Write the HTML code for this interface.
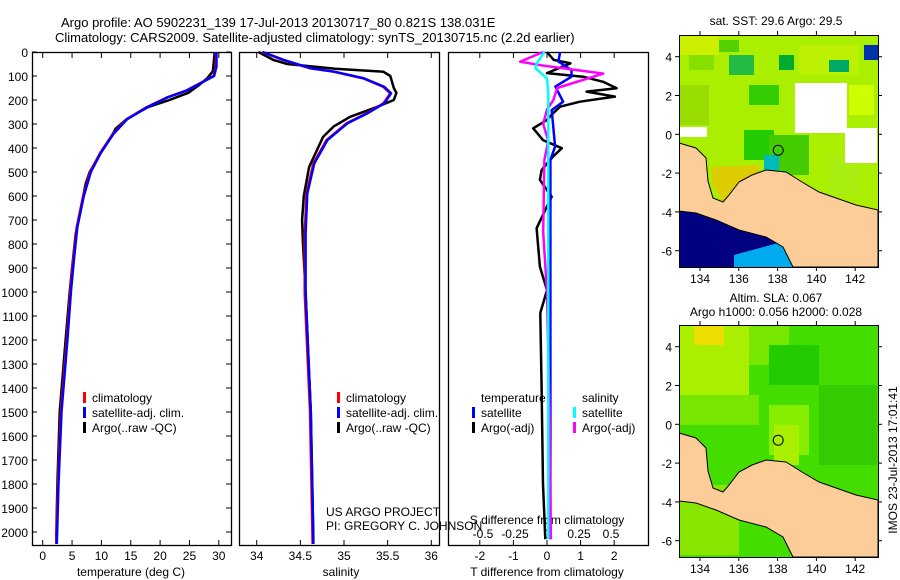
<!DOCTYPE html>
<html><head><meta charset="utf-8"><style>
body{margin:0;background:#fff;}
svg{display:block;font-family:"Liberation Sans",sans-serif;}
</style></head><body>
<svg id="c" width="900" height="580" viewBox="0 0 900 580"></svg>
<script>
// ---------- data ----------
const depthT = [0,60,100,130,160,190,230,280,340,420,500,600,730,870,1000,1200,1500,1800,2050];
const tempClim = [29.5,29.5,29.1,26.8,24.5,21.1,17.7,14.3,12.0,9.8,8.1,6.9,5.8,5.2,4.7,4.1,3.1,2.6,2.3];
const depthTA = [0,80,110,140,170,200,230,280,320,340,420,500,550,760,900,1000,1200,1500,1800,2030];
const tempArgo = [29.3,29.0,28.0,26.5,24.8,21.6,17.9,14.3,12.4,12.0,9.9,8.0,7.3,5.6,5.0,4.6,3.9,2.9,2.5,2.3];
const depthS = [0,33,68,82,110,145,172,214,255,297,367,464,589,755,1005,1500,2050];
const salClim = [34.06,34.30,34.61,34.88,35.22,35.45,35.53,35.45,35.26,35.03,34.80,34.65,34.57,34.55,34.55,34.61,34.64];
const depthSA = [0,33,50,70,82,100,150,170,200,230,270,311,354,480,600,700,800,1000,1500,2030];
const salArgo = [34.02,34.19,34.35,34.9,35.45,35.53,35.57,35.6,35.57,35.37,35.07,34.88,34.76,34.6,34.54,34.52,34.53,34.56,34.62,34.65];
const depthDT = [0,33,47,88,103,124,151,165,186,207,228,256,283,318,367,401,436,492,533,603,734,894,992,1087,1400,1800,2030];
const dTArgo = [0.0,0.2,0.7,0.0,1.07,1.67,2.07,1.18,2.02,0.98,0.39,0.18,0.0,-0.41,-0.12,0.44,0.18,-0.16,-0.21,0.14,-0.31,-0.21,0.0,-0.2,-0.16,-0.12,-0.05];
const depthDTS = [0,40,75,103,144,207,242,300,394,450,1000,2030];
const dTSat = [0.39,0.34,0.73,0.73,0.25,0.48,0.14,0.18,0.24,0.1,0.1,0.1];
const depthDS = [0,40,55,90,150,200,240,300,370,450,750,1000,1500,2030];
const dSArgo = [-0.03,-0.21,-0.05,0.44,0.08,0.05,0.0,-0.03,0.01,-0.02,-0.03,0.0,0.02,0.03];
const depthDSS = [0,47,68,110,170,2030];
const dSSat = [-0.02,-0.08,-0.09,0.0,0.01,0.01];
const depthTicks = [0,100,200,300,400,500,600,700,800,900,1000,1100,1200,1300,1400,1500,1600,1700,1800,1900,2000];
const tempTicks = [0,5,10,15,20,25,30];
const salTicks = [34,34.5,35,35.5,36];
const salTickLabels = ["34","34.5","35","35.5","36"];
const dTTicks = [-2,-1,0,1,2];
const dSTicks = [-0.5,-0.25,0,0.25,0.5];
const dSTickLabels = ["-0.5","-0.25","0","0.25","0.5"];
const lonTicks = [134,136,138,140,142];
const latTicks = [-6,-4,-2,0,2,4];
const argoLon = 138.031, argoLat = -0.821;

// ---------- helpers ----------
const NS="http://www.w3.org/2000/svg";
const svg=document.getElementById('c');
function mk(tag,attrs,parent){const e=document.createElementNS(NS,tag);for(const k in attrs)e.setAttribute(k,attrs[k]);(parent||svg).appendChild(e);return e;}
function txt(s,x,y,anchor,size,parent){const t=mk('text',{x:x,y:y,'text-anchor':anchor||'start','font-size':size||12,fill:'#000'},parent);t.textContent=s;return t;}
const yD = d => 52 + d*0.24;
const xT = t => 42.7 + t*5.87;
const xS = s => 256.7 + (s-34)*87.3;
const xDT = v => 547 + v*33.6;
const xDS = v => 547 + v*128;
function line(xs,ds,fx,color,name,w){
  const pts=xs.map((v,i)=>fx(v).toFixed(1)+','+yD(ds[i]).toFixed(1)).join(' ');
  const p=mk('polyline',{points:pts,fill:'none',stroke:color,'stroke-width':w||2.5,'stroke-linejoin':'round'});
  
  
}

let t1=txt('Argo profile: AO 5902231_139 17-Jul-2013 20130717_80 0.821S 138.031E',61,27,'start',13);

let t2=txt('Climatology: CARS2009. Satellite-adjusted climatology: synTS_20130715.nc (2.2d earlier)',55,42,'start',13);


const panels=[[32,231,'temperature-panel'],[239,439,'salinity-panel'],[448,648,'difference-panel']];
panels.forEach(p=>{
  const r=mk('rect',{x:p[0]+0.5,y:52.5,width:p[1]-p[0],height:493,fill:'none',stroke:'#000','stroke-width':1.3});
  
  
});
depthTicks.forEach(d=>{
  const y=yD(d);
  mk('line',{x1:32,x2:37,y1:y,y2:y,stroke:'#000'});
  mk('line',{x1:226,x2:231,y1:y,y2:y,stroke:'#000'});
  const l=txt(String(d),28,y+5,'end',12);
  
  
});
function xticks(vals,labels,fx,yLab){
  vals.forEach((v,i)=>{
    const x=fx(v);
    mk('line',{x1:x,x2:x,y1:540,y2:545,stroke:'#000'});
    mk('line',{x1:x,x2:x,y1:53,y2:58,stroke:'#000'});
    const l=txt(labels[i],x,yLab,'middle',12);
    
    
  });
}
xticks(tempTicks,tempTicks.map(String),xT,560);
xticks(salTicks,salTickLabels,xS,560);
xticks(dTTicks,dTTicks.map(String),xDT,560);
dSTicks.forEach((v,i)=>{const l=txt(dSTickLabels[i],xDS(v),538,'middle',12);
  });
let xl=txt('temperature (deg C)',131,576,'middle',12);
xl=txt('salinity',341,576,'middle',12);
xl=txt('T difference from climatology',547,576,'middle',12);
xl=txt('S difference from climatology',547,524,'middle',12);

line(tempArgo,depthTA,xT,'#000','temp-argo-line');
line(tempClim,depthT,xT,'#f00','temp-climatology-line');
line(tempClim.map(v=>v+0.1),depthT,xT,'#00f','temp-satellite-line');
line(salArgo,depthSA,xS,'#000','sal-argo-line');
line(salClim,depthS,xS,'#f00','sal-climatology-line');
line(salClim.map(v=>v+0.01),depthS,xS,'#00f','sal-satellite-line');
line(dTArgo,depthDT,xDT,'#000','tdiff-argo-line');
line(dTSat,depthDTS,xDT,'#00f','tdiff-satellite-line');
line(dSArgo,depthDS,xDS,'#f0f','sdiff-argo-line');
line(dSSat,depthDSS,xDS,'#0ff','sdiff-satellite-line');

function legend(x,y,items,name){
  const g=mk('g',{});
  
  
  items.forEach((it,i)=>{
    if(it[1]) mk('rect',{x:x,y:y+i*15-10,width:3,height:11,fill:it[1]},g);
    txt(it[0],x+9,y+i*15,'start',12,g);
  });
}
legend(83,402,[['climatology','#f00'],['satellite-adj. clim.','#00f'],['Argo(..raw -QC)','#000']],'temperature-legend');
legend(337,402,[['climatology','#f00'],['satellite-adj. clim.','#00f'],['Argo(..raw -QC)','#000']],'salinity-legend');
legend(472,402,[['temperature',null],['satellite','#00f'],['Argo(-adj)','#000']],'tdiff-legend');
legend(573,402,[['salinity',null],['satellite','#0ff'],['Argo(-adj)','#f0f']],'sdiff-legend');
let cr=txt('US ARGO PROJECT',326,516,'start',12);
cr=txt('PI: GREGORY C. JOHNSON',326,530,'start',12);

function map(x0,y0,x1,y1,latTopY,name,top){
  const lx = lon => 700 + (lon-134)*19.4;
  const ly = lat => latTopY - lat*19.4;
  const g=mk('g',{});
  
  
  const cp=mk('clipPath',{id:'cp'+name},g);
  mk('rect',{x:x0,y:y0,width:x1-x0,height:y1-y0},cp);
  const inner=mk('g',{'clip-path':'url(#cp'+name+')'},g);
  const P=(arr)=>arr.map(a=>(x0+a[0]).toFixed(1)+','+(y0+a[1]).toFixed(1)).join(' ');
  if(top){
    mk('rect',{x:x0,y:y0,width:x1-x0,height:y1-y0,fill:'#aaee00'},inner);
    [[0,0,40,20,'#ccf000'],[40,5,20,12,'#55d000'],[50,20,25,20,'#22bb44'],[120,10,60,30,'#bbf000'],[150,25,20,12,'#00aa66'],[70,50,30,20,'#33cc00'],[170,50,25,30,'#ccff00'],[140,72,20,10,'#ff9900'],[0,50,30,40,'#99dd00'],[65,95,30,30,'#22cc00'],[90,100,40,40,'#44cc00'],[150,120,30,40,'#aaee11'],[185,10,14,15,'#0033aa'],[85,120,15,15,'#00bbbb'],[10,20,25,15,'#88e000'],[100,20,15,15,'#00aa33']].forEach(r=>mk('rect',{x:x0+r[0],y:y0+r[1],width:r[2],height:r[3],fill:r[4]},inner));
    mk('rect',{x:795,y:83,width:52,height:50,fill:'#fff'},inner);
    mk('rect',{x:680,y:127,width:27,height:10,fill:'#fff'},inner);
    mk('rect',{x:845,y:128,width:32,height:35,fill:'#fff'},inner);
    mk('polygon',{points:P([[0,175],[40,178],[100,198],[125,232],[0,232]]),fill:'#000080'},inner);
    mk('polygon',{points:P([[55,220],[110,205],[120,232],[55,232]]),fill:'#00aaee'},inner);
    mk('polygon',{points:P([[32,132],[80,130],[80,160],[45,168],[34,150]]),fill:'#ddcc00'},inner);
  } else {
    mk('rect',{x:x0,y:y0,width:x1-x0,height:y1-y0,fill:'#44dd00'},inner);
    [[0,0,70,70,'#aaee00'],[15,0,30,20,'#eedd00'],[70,0,40,40,'#77e600'],[90,20,50,40,'#22cc00'],[0,70,80,30,'#77e600'],[90,80,40,50,'#88ee00'],[95,100,25,40,'#aaee00'],[140,60,58,80,'#33cc00'],[0,160,60,70,'#88e600']].forEach(r=>mk('rect',{x:x0+r[0],y:y0+r[1],width:r[2],height:r[3],fill:r[4]},inner));
  }
  const land=mk('polygon',{points:P([[0,108],[17,113],[27,123],[29,146],[34,163],[44,167],[50,160],[60,147],[73,140],[87,135],[107,137],[123,147],[140,157],[177,170],[199,175],[199,232],[114,232],[104,212],[87,202],[60,195],[37,185],[17,178],[0,176]]),fill:'#fccc99',stroke:'#000','stroke-width':1},inner);
  
  
  const m=mk('circle',{cx:lx(argoLon),cy:ly(argoLat),r:5,fill:'none',stroke:'#000','stroke-width':1},g);
  
  
  mk('rect',{x:x0+0.5,y:y0+0.5,width:x1-x0,height:y1-y0,fill:'none',stroke:'#000','stroke-width':1},g);
  lonTicks.forEach(l=>{const x=lx(l);
    mk('line',{x1:x,x2:x,y1:y1,y2:y1+4,stroke:'#000'},g);mk('line',{x1:x,x2:x,y1:y0,y2:y0-4,stroke:'#000'},g);
    txt(String(l),x,y1+16,'middle',12,g);});
  latTicks.forEach(l=>{const y=ly(l);
    mk('line',{x1:x0,x2:x0-4,y1:y,y2:y,stroke:'#000'},g);mk('line',{x1:x1,x2:x1+4,y1:y,y2:y,stroke:'#000'},g);
    txt(String(l),672,y+5,'end',12,g);});
}
map(679,35,878,267,134.3,'sst-map',true);
map(679,325,878,557,424.3,'sla-map',false);
let mt=txt('sat. SST: 29.6 Argo: 29.5',776,25,'middle',12);
mt=txt('Altim. SLA: 0.067',776,302,'middle',12);
mt=txt('Argo h1000: 0.056 h2000: 0.028',776,316,'middle',12);
mt=txt('IMOS 23-Jul-2013 17:01:41',0,0,'middle',12);mt.setAttribute('transform','translate(897,460) rotate(-90)');

</script>
</body></html>
